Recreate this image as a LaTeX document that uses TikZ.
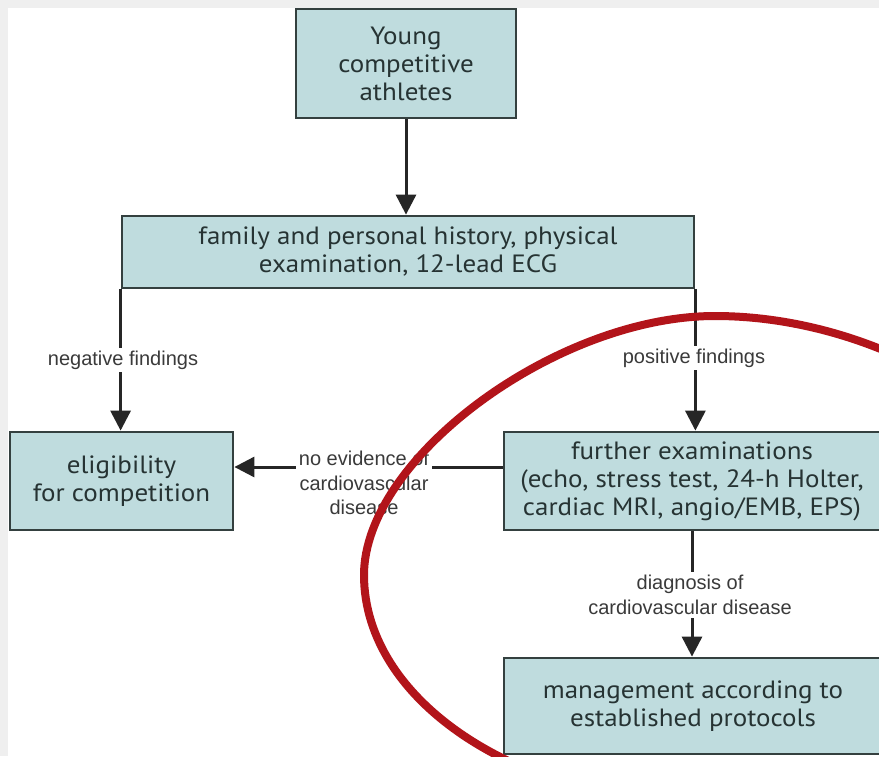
\documentclass[tikz,border=0pt]{standalone}
\usepackage{fontspec}
\newfontfamily\boxfont[FakeStretch=1.08]{PT Sans}
\newfontfamily\lblfont{Liberation Sans}
\usetikzlibrary{arrows.meta}
\definecolor{boxfill}{HTML}{BFDCDE}
\definecolor{boxline}{HTML}{34403F}
\definecolor{txt}{HTML}{263333}
\definecolor{lbl}{HTML}{3A3A3A}
\definecolor{redring}{HTML}{B2141A}
\definecolor{band}{HTML}{EFEFEF}
\begin{document}
\begin{tikzpicture}[x=1pt,y=-1pt,
  stepbox/.style={draw=boxline, line width=2.8pt, fill=boxfill, text=txt,
    font=\boxfont\fontsize{25}{28}\selectfont, align=center, inner sep=0pt},
  lab/.style={fill=white, text=lbl, font=\lblfont\fontsize{20}{24.5}\selectfont,
    align=center, inner sep=3pt},
  arr/.style={line width=3pt, draw=black!85, -{Triangle[width=20pt,length=20pt]}},
  ring/.style={draw=redring, line width=8pt}]
\useasboundingbox (0,0) rectangle (879,756);
\fill[white] (0,0) rectangle (879,756);
\fill[band] (0,0) rectangle (879,8);
\fill[band] (0,0) rectangle (8,756);

\node[stepbox, minimum width=220pt, minimum height=109pt] (young) at (406,63.5)
  {Young\\competitive\\athletes};
\node[stepbox, minimum width=572pt, minimum height=72pt] (family) at (408,252)
  {family and personal history, physical\\examination, 12-lead ECG};
\node[stepbox, minimum width=223pt, minimum height=98pt] (elig) at (121.5,481)
  {eligibility\\for competition};
\node[stepbox, minimum width=376pt, minimum height=98pt] (further) at (692,481)
  {further examinations\\(echo, stress test, 24-h Holter,\\cardiac MRI, angio/EMB, EPS)};
\node[stepbox, minimum width=378pt, minimum height=96pt] (mgmt) at (693,706)
  {management according to\\established protocols};

\draw[arr] (young.south) -- (young.south |- family.north);
\draw[arr] (family.south west) -- (family.south west |- elig.north);
\draw[arr] (family.south east) -- (family.south east |- further.north);
\draw[arr] ([yshift=14pt]further.west) -- ([yshift=14pt]elig.east);
\draw[arr] (further.south) -- (further.south |- mgmt.north);

\node[lab] (neg) at (123,360) {negative findings};
\node[lab] (pos) at (694,358) {positive findings};
\node[lab] (noev) at (364,483) {no evidence of\\cardiovascular\\disease};
\node[lab] (diag) at (690,595) {diagnosis of\\cardiovascular disease};

\begin{scope}
\clip (0,0) rectangle (879,756);
\draw[ring] (715,316) .. controls (557,316) and (364,458) .. (364,575)
  .. controls (364,702) and (521,805) .. (715,805)
  .. controls (909,805) and (1085,700) .. (1085,575)
  .. controls (1085,445) and (900,316) .. cycle;
\end{scope}
\end{tikzpicture}
\end{document}
